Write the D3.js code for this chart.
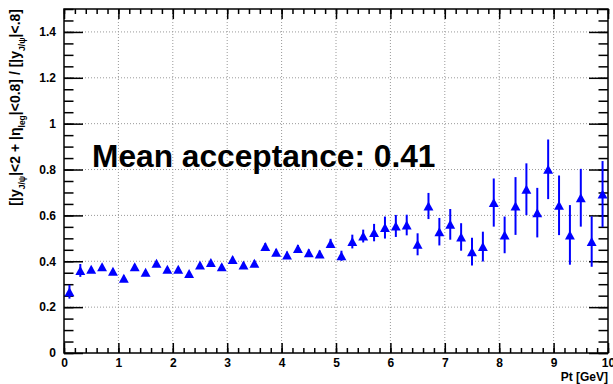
<!DOCTYPE html>
<meta charset="utf-8" />
<head>
  <script src="https://cdn.jsdelivr.net/npm/d3@7/dist/d3.min.js"></script>
  <title>Acceptance</title>
  <style>
    body { margin: 0; background: #fff; }
    text { font-family: "Liberation Sans", Arial, sans-serif; font-weight: bold; }
    .grid line { stroke: #999; stroke-dasharray: 1,2; stroke-width: 1; }
    .axis path { display: none; }
    .axis line { stroke: #000; stroke-width: 1.5; }
  </style>
</head>
<body>
  <svg id="chart" width="613" height="384"></svg>
</body>

<script>
  // bin centres in Pt [GeV]
  const ptBins = [
    0.1, 0.3, 0.5, 0.7, 0.9, 1.1, 1.3, 1.5, 1.7, 1.9,
    2.1, 2.3, 2.5, 2.7, 2.9, 3.1, 3.3, 3.5, 3.7, 3.9,
    4.1, 4.3, 4.5, 4.7, 4.9, 5.1, 5.3, 5.5, 5.7, 5.9,
    6.1, 6.3, 6.5, 6.7, 6.9, 7.1, 7.3, 7.5, 7.7, 7.9,
    8.1, 8.3, 8.5, 8.7, 8.9, 9.1, 9.3, 9.5, 9.7, 9.9,
  ];
  const acceptance = [
    0.267, 0.360, 0.365, 0.376, 0.357, 0.326, 0.376, 0.352, 0.391, 0.365,
    0.365, 0.347, 0.384, 0.395, 0.376, 0.408, 0.384, 0.391, 0.464, 0.439,
    0.427, 0.456, 0.437, 0.432, 0.478, 0.424, 0.486, 0.510, 0.525, 0.547,
    0.554, 0.558, 0.474, 0.641, 0.529, 0.561, 0.506, 0.442, 0.464, 0.656,
    0.515, 0.641, 0.714, 0.612, 0.801, 0.644, 0.515, 0.677, 0.486, 0.693,
  ];
  const errors = [
    0.030, 0.028, 0.010, 0.010, 0.010, 0.012, 0.010, 0.010, 0.010, 0.010,
    0.010, 0.010, 0.010, 0.010, 0.012, 0.012, 0.012, 0.012, 0.015, 0.015,
    0.015, 0.015, 0.015, 0.015, 0.020, 0.022, 0.030, 0.028, 0.038, 0.048,
    0.048, 0.045, 0.048, 0.057, 0.060, 0.067, 0.060, 0.061, 0.065, 0.105,
    0.080, 0.126, 0.113, 0.108, 0.130, 0.130, 0.130, 0.126, 0.110, 0.144,
  ];

  const xTicks = [0, 1, 2, 3, 4, 5, 6, 7, 8, 9, 10];
  const yTicks = [0, 0.2, 0.4, 0.6, 0.8, 1, 1.2, 1.4];
  const meanLabel = "Mean acceptance: 0.41";

  const svg = d3.select("#chart");
  const margin = { top: 9, right: 5, bottom: 31, left: 64 };
  const width = +svg.attr("width");
  const height = +svg.attr("height");

  const x = d3.scaleLinear().domain([0, 10]).range([margin.left, width - margin.right]);
  const y = d3.scaleLinear().domain([0, 1.5]).range([height - margin.bottom, margin.top]);

  const xMinor = d3.range(0, 10.001, 0.2).map((v) => +v.toFixed(1));
  const yMinor = d3.range(0, 1.501, 0.05).map((v) => +v.toFixed(2));

  // grid
  const grid = svg.append("g").attr("class", "grid");
  grid
    .selectAll(".gx")
    .data(xTicks.slice(1, -1))
    .enter()
    .append("line")
    .attr("x1", (d) => x(d))
    .attr("x2", (d) => x(d))
    .attr("y1", y(0))
    .attr("y2", y(1.5));
  grid
    .selectAll(".gy")
    .data(yTicks.slice(1))
    .enter()
    .append("line")
    .attr("x1", x(0))
    .attr("x2", x(10))
    .attr("y1", (d) => y(d))
    .attr("y2", (d) => y(d));

  // axes, ticks inside the frame like ROOT
  const fmt = (d) => String(+d.toFixed(1));
  const addAxis = (gen, tr) =>
    svg.append("g").attr("class", "axis").attr("transform", tr).call(gen);

  addAxis(d3.axisBottom(x).tickValues(xMinor).tickSize(-5).tickFormat(""), `translate(0,${y(0)})`);
  const xa = addAxis(
    d3.axisBottom(x).tickValues(xTicks).tickSize(-10).tickPadding(5).tickFormat(fmt),
    `translate(0,${y(0)})`
  );
  addAxis(d3.axisTop(x).tickValues(xMinor).tickSize(-5).tickFormat(""), `translate(0,${y(1.5)})`);
  addAxis(d3.axisTop(x).tickValues(xTicks).tickSize(-10).tickFormat(""), `translate(0,${y(1.5)})`);

  addAxis(d3.axisLeft(y).tickValues(yMinor).tickSize(-9.5).tickFormat(""), `translate(${x(0)},0)`);
  const ya = addAxis(
    d3.axisLeft(y).tickValues(yTicks).tickSize(-19).tickPadding(8).tickFormat(fmt),
    `translate(${x(0)},0)`
  );
  addAxis(d3.axisRight(y).tickValues(yMinor).tickSize(-9.5).tickFormat(""), `translate(${x(10)},0)`);
  addAxis(d3.axisRight(y).tickValues(yTicks).tickSize(-19).tickFormat(""), `translate(${x(10)},0)`);

  xa.selectAll("text").attr("font-size", 12).attr("fill", "#000").attr("font-family", null);
  ya.selectAll("text").attr("font-size", 12).attr("fill", "#000").attr("font-family", null);

  // frame
  svg
    .append("rect")
    .attr("x", x(0))
    .attr("y", y(1.5))
    .attr("width", x(10) - x(0))
    .attr("height", y(0) - y(1.5))
    .attr("fill", "none")
    .attr("stroke", "#000")
    .attr("stroke-width", 1.5);

  // axis titles
  svg
    .append("text")
    .attr("x", x(10))
    .attr("y", 381)
    .attr("text-anchor", "end")
    .attr("font-size", 12)
    .text("Pt [GeV]");

  const yt = svg
    .append("text")
    .attr("transform", `translate(20,${y(1.5)}) rotate(-90)`)
    .attr("text-anchor", "end")
    .attr("font-size", 14);
  const parts = [
    ["[|y", 0], ["J/\u03c8", 1], ["|<2 + |\u03b7", 0], ["leg", 1],
    ["|<0.8] / [|y", 0], ["J/\u03c8", 1], ["|<.8]", 0],
  ];
  let shift = 0;
  parts.forEach(([t, sub]) => {
    const dy = sub ? 5 - shift : -shift;
    shift = sub ? 5 : 0;
    yt.append("tspan").attr("dy", dy).attr("font-size", sub ? 8.5 : 14).text(t);
  });

  // big label
  svg
    .append("text")
    .attr("x", 92)
    .attr("y", 167)
    .attr("font-size", 31.7)
    .text(meanLabel);

  // points
  const data = ptBins.map((pt, i) => ({ pt, v: acceptance[i], e: errors[i] }));
  const pts = svg.append("g");
  pts
    .selectAll(".err")
    .data(data)
    .enter()
    .append("line")
    .attr("x1", (d) => x(d.pt))
    .attr("x2", (d) => x(d.pt))
    .attr("y1", (d) => y(d.v - d.e))
    .attr("y2", (d) => y(d.v + d.e))
    .attr("stroke", "#0000ff")
    .attr("stroke-width", 2);

  const tri = {
    draw(ctx, size) {
      const r = Math.sqrt(size) / 2;
      ctx.moveTo(0, -r);
      ctx.lineTo(r * 1.1, r);
      ctx.lineTo(-r * 1.1, r);
      ctx.closePath();
    },
  };
  pts
    .selectAll(".mk")
    .data(data)
    .enter()
    .append("path")
    .attr("transform", (d) => `translate(${x(d.pt)},${y(d.v)})`)
    .attr("d", d3.symbol().type(tri).size(81))
    .attr("fill", "#0000ff");
</script>
